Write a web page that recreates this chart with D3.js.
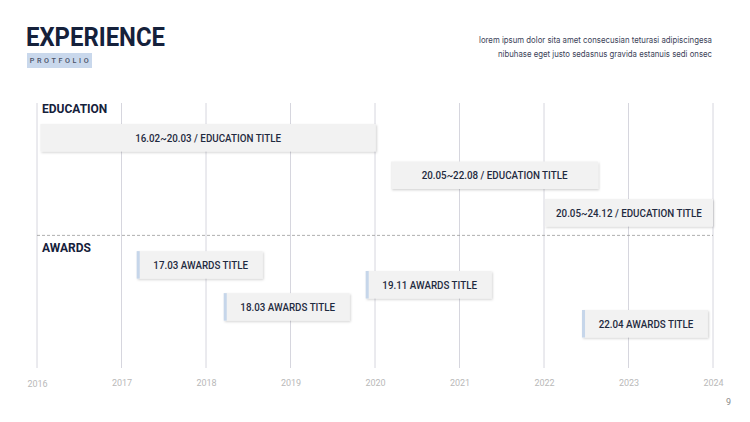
<!DOCTYPE html>
<html>
<head>
<meta charset="utf-8">
<script src="https://cdn.jsdelivr.net/npm/d3@7"></script>
<style>
html,body{margin:0;padding:0;background:#fff;}
svg{display:block;font-family:Roboto,"Noto Sans",sans-serif;}
</style>
</head>
<body>
<svg id="chart" width="750" height="422"></svg>
<script>
// ---- data ----
const years = [2016, 2017, 2018, 2019, 2020, 2021, 2022, 2023, 2024];
const yearLabels = ["2016", "2017", "2018", "2019", "2020", "2021", "2022", "2023", "2024"];

const eduLabels = ["16.02~20.03 / EDUCATION TITLE", "20.05~22.08 / EDUCATION TITLE", "20.05~24.12 / EDUCATION TITLE"];
const eduStart = [2016.04, 2020.19, 2022.01];
const eduEnd   = [2020.01, 2022.64, 2024.00];
const eduLane  = [0, 1, 2];

const awardLabels = ["17.03 AWARDS TITLE", "18.03 AWARDS TITLE", "19.11 AWARDS TITLE", "22.04 AWARDS TITLE"];
const awardStart = [2017.18, 2018.21, 2019.89, 2022.45];
const awardEnd   = [2018.67, 2019.70, 2021.38, 2023.94];
const awardLane  = [3.39, 4.51, 3.92, 4.96];

const sectionLabels = ["EDUCATION", "AWARDS"];
const sectionLane = [-0.5, 3.2];
const dividerLane = 2.97;

const titleText = "EXPERIENCE";
const tagText = "PROTFOLIO";
const descLines = ["lorem ipsum dolor sita amet consecusian teturasi adipiscingesa",
                   "nibuhase eget justo sedasnus gravida estanuis sedi onsec"];
const pageNum = "9";

// ---- layout ----
const svg = d3.select("#chart");
const x = d3.scaleLinear().domain([2016, 2024]).range([37, 713]);
const laneH = 37.5;
const y = d3.scaleLinear().domain([0, 1]).range([124, 124 + laneH]);
const barH = 27.5;
const gridTop = 103, gridBottom = 368;

const navy = "#15213b";

// shadow filter
const defs = svg.append("defs");
const f = defs.append("filter").attr("id", "sh").attr("x", "-5%").attr("y", "-20%").attr("width", "110%").attr("height", "150%");
f.append("feDropShadow").attr("dx", 1).attr("dy", 1.2).attr("stdDeviation", 0.9)
  .attr("flood-color", "#000").attr("flood-opacity", 0.18);

// header
svg.append("text").attr("x", 26).attr("y", 46)
  .attr("font-size", 25).attr("font-weight", 700).attr("fill", navy)
  .attr("textLength", 139).attr("lengthAdjust", "spacingAndGlyphs")
  .text(titleText);
svg.append("rect").attr("x", 27).attr("y", 53).attr("width", 65).attr("height", 15).attr("fill", "#c9d8ec");
svg.append("text").attr("x", 60.5).attr("y", 63.4).attr("text-anchor", "middle")
  .attr("font-size", 7.2).attr("font-weight", 500).attr("letter-spacing", 2.6).attr("fill", "#4a5268")
  .text(tagText);
svg.selectAll("text.desc").data(descLines).join("text").attr("class", "desc")
  .attr("x", 712).attr("y", (d, i) => 43 + i * 14).attr("text-anchor", "end")
  .attr("font-family", "Inter, Roboto, sans-serif")
  .attr("font-size", 8.6).attr("fill", "#3b4258")
  .attr("textLength", (d, i) => i === 0 ? 233 : 214).attr("lengthAdjust", "spacingAndGlyphs")
  .text(d => d);

// gridlines
svg.append("g").selectAll("line").data(years).join("line")
  .attr("x1", d => x(d)).attr("x2", d => x(d))
  .attr("y1", gridTop).attr("y2", gridBottom)
  .attr("stroke", "#d6d6de").attr("stroke-width", 1);

// x axis labels
const axis = d3.axisBottom(x).tickValues(years).tickFormat((d, i) => yearLabels[i]).tickSize(0).tickPadding(0);
const ag = svg.append("g").attr("transform", `translate(0,${gridBottom + 10})`).call(axis);
ag.select(".domain").remove();
ag.selectAll("text").attr("font-size", 9).attr("fill", "#b9b9b9").attr("font-family", "Roboto, sans-serif")
  .attr("dy", (d, i) => i === 0 ? "1.05em" : "0.9em");

// divider
svg.append("line").attr("x1", x(2016)).attr("x2", x(2024))
  .attr("y1", y(dividerLane)).attr("y2", y(dividerLane))
  .attr("stroke", "#9a9a9a").attr("stroke-width", 0.8).attr("stroke-dasharray", "3,2");

// section labels
svg.selectAll("text.sec").data(sectionLabels).join("text").attr("class", "sec")
  .attr("x", 42).attr("y", (d, i) => y(sectionLane[i]) + 8)
  .attr("font-size", 12).attr("font-weight", 700).attr("fill", navy)
  .text(d => d);

const labelSize = 11.4;
const labelSqueeze = 0.86;
function barLabel(sel, dx) {
  sel.attr("transform", d => `translate(${(x(d.s) + x(d.e)) / 2 + dx},${y(d.lane) + barH / 2 + 4.1}) scale(${labelSqueeze},1)`)
    .attr("text-anchor", "middle").attr("font-size", labelSize).attr("font-weight", 500)
    .attr("fill", "#1f2a40")
    .text(d => d.label);
}

// education bars
const edu = eduLabels.map((l, i) => ({label: l, s: eduStart[i], e: eduEnd[i], lane: eduLane[i]}));
const eg = svg.append("g").selectAll("g").data(edu).join("g");
eg.append("rect")
  .attr("x", d => x(d.s)).attr("y", d => y(d.lane))
  .attr("width", d => x(d.e) - x(d.s)).attr("height", barH)
  .attr("fill", "#f2f2f2").attr("filter", "url(#sh)");
eg.append("text").call(barLabel, 0);

// award bars
const aw = awardLabels.map((l, i) => ({label: l, s: awardStart[i], e: awardEnd[i], lane: awardLane[i]}));
const wg = svg.append("g").selectAll("g").data(aw).join("g");
wg.append("rect")
  .attr("x", d => x(d.s)).attr("y", d => y(d.lane))
  .attr("width", d => x(d.e) - x(d.s)).attr("height", barH)
  .attr("fill", "#f2f2f2").attr("filter", "url(#sh)");
wg.append("rect")
  .attr("x", d => x(d.s)).attr("y", d => y(d.lane))
  .attr("width", 3).attr("height", barH)
  .attr("fill", "#c6d6ea");
wg.append("text").call(barLabel, 1);

// page number
svg.append("text").attr("x", 731).attr("y", 405).attr("text-anchor", "end")
  .attr("font-size", 9).attr("fill", "#8a8a8a").text(pageNum);
</script>
</body>
</html>
